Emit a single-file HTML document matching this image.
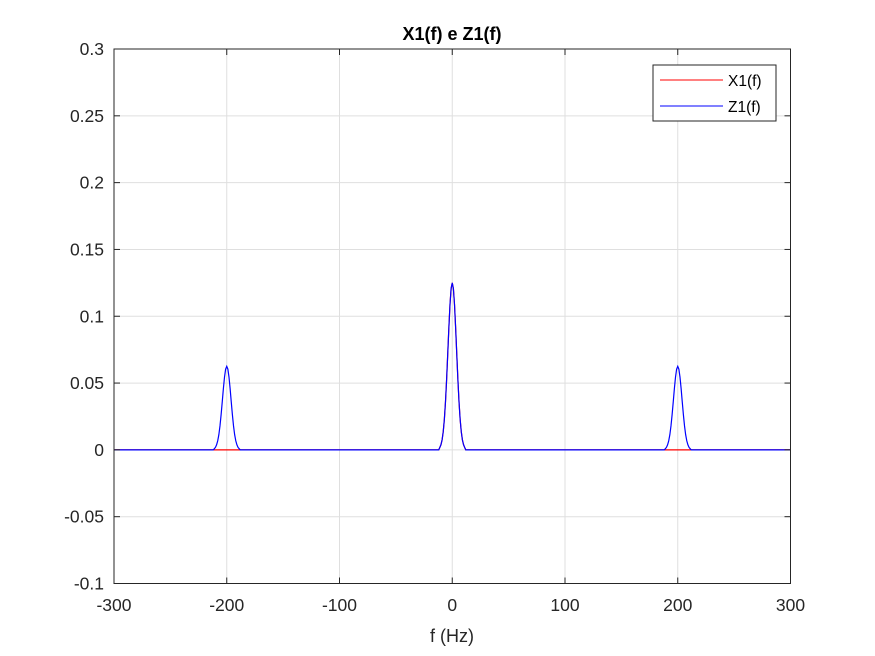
<!DOCTYPE html>
<html><head><meta charset="utf-8"><style>
html,body{margin:0;padding:0;background:#fff;}
svg{display:block;font-family:"Liberation Sans",Arial,sans-serif;}
</style></head><body>
<svg id="chart" width="875" height="656" viewBox="0 0 875 656">
<rect width="875" height="656" fill="#fff"/>
<g id="grid"></g>
<g id="series"></g>
<rect x="114" y="49" width="676.5" height="534.5" fill="none" stroke="#262626" stroke-width="1"/>
<g id="ticks"></g>
<text x="452" y="40" text-anchor="middle" font-size="18" font-weight="bold" fill="#000">X1(f) e Z1(f)</text>
<text x="452" y="642" text-anchor="middle" font-size="18" fill="#262626">f (Hz)</text>
<g>
<rect x="653" y="65" width="123" height="56" fill="#fff" stroke="#262626" stroke-width="1"/>
<g>
<line x1="660" y1="80" x2="723" y2="80" stroke="#ff0000" stroke-width="1"/>
<text x="728" y="86" font-size="15.5" fill="#000">X1(f)</text></g>
<g>
<line x1="660" y1="106" x2="723" y2="106" stroke="#0000ff" stroke-width="1"/>
<text x="728" y="112" font-size="15.5" fill="#000">Z1(f)</text></g>
</g>
</svg>
<script>
const xTicks=[-300,-200,-100,0,100,200,300];
const yTicks=[-0.1,-0.05,0,0.05,0.1,0.15,0.2,0.25,0.3];
const yTickLabels=["-0.1","-0.05","0","0.05","0.1","0.15","0.2","0.25","0.3"];
const freqs=[-300,
-212,-211,-210,-209,-208,-207,-206,-205,-204,-203,-202,-201,-200,-199,-198,-197,-196,-195,-194,-193,-192,-191,-190,-189,-188,
-12,-11,-10,-9,-8,-7,-6,-5,-4,-3,-2,-1,0,1,2,3,4,5,6,7,8,9,10,11,12,
188,189,190,191,192,193,194,195,196,197,198,199,200,201,202,203,204,205,206,207,208,209,210,211,212,
300];
const z1Values=[0,
0,0.0009,0.0019,0.0038,0.0068,0.0114,0.0180,0.0263,0.0359,0.0458,0.0544,0.0604,0.0625,0.0604,0.0544,0.0458,0.0359,0.0263,0.0180,0.0114,0.0068,0.0038,0.0019,0.0009,0,
0,0.0019,0.0039,0.0075,0.0136,0.0229,0.0360,0.0526,0.0719,0.0915,0.1089,0.1208,0.125,0.1208,0.1089,0.0915,0.0719,0.0526,0.0360,0.0229,0.0136,0.0075,0.0039,0.0019,0,
0,0.0009,0.0019,0.0038,0.0068,0.0114,0.0180,0.0263,0.0359,0.0458,0.0544,0.0604,0.0625,0.0604,0.0544,0.0458,0.0359,0.0263,0.0180,0.0114,0.0068,0.0038,0.0019,0.0009,0,
0];
const x1Values=[0,
0,0,0,0,0,0,0,0,0,0,0,0,0,0,0,0,0,0,0,0,0,0,0,0,0,
0,0.0019,0.0039,0.0075,0.0136,0.0229,0.0360,0.0526,0.0719,0.0915,0.1089,0.1208,0.125,0.1208,0.1089,0.0915,0.0719,0.0526,0.0360,0.0229,0.0136,0.0075,0.0039,0.0019,0,
0,0,0,0,0,0,0,0,0,0,0,0,0,0,0,0,0,0,0,0,0,0,0,0,0,
0];
const NS='http://www.w3.org/2000/svg';
const L=114,R=790.5,T=49,B=583.5;
function xs(v){return L+(v+300)/600*(R-L);}
function ys(v){return B-(v+0.1)/0.4*(B-T);}
const grid=document.getElementById('grid'),ticks=document.getElementById('ticks'),ser=document.getElementById('series');
function mk(tag,attrs,parent){const e=document.createElementNS(NS,tag);for(const k in attrs)e.setAttribute(k,attrs[k]);parent.appendChild(e);return e;}
xTicks.forEach(v=>{const x=xs(v);
 const g=mk('line',{x1:x,y1:T,x2:x,y2:B,stroke:'#dfdfdf','stroke-width':1},grid);
 
 
 mk('line',{x1:x,y1:B,x2:x,y2:B-6,stroke:'#262626'},ticks);
 mk('line',{x1:x,y1:T,x2:x,y2:T+6,stroke:'#262626'},ticks);
 const t=mk('text',{x:x,y:611,'text-anchor':'middle','font-size':17.5,fill:'#262626'},ticks);
 t.textContent=String(v);
 
 
});
yTicks.forEach((v,i)=>{const y=ys(v);
 const g=mk('line',{x1:L,y1:y,x2:R,y2:y,stroke:'#dfdfdf','stroke-width':1},grid);
 
 
 mk('line',{x1:L,y1:y,x2:L+6,y2:y,stroke:'#262626'},ticks);
 mk('line',{x1:R,y1:y,x2:R-6,y2:y,stroke:'#262626'},ticks);
 const t=mk('text',{x:104,y:y+6,'text-anchor':'end','font-size':17.5,fill:'#262626'},ticks);
 t.textContent=yTickLabels[i];
 
 
});
function path(vals,color,name){
 const d=freqs.map((f,i)=>(i?'L':'M')+xs(f).toFixed(2)+','+ys(vals[i]).toFixed(2)).join('');
 const p=mk('path',{d:d,fill:'none',stroke:color,'stroke-width':1.2},ser);
 
 
}
path(x1Values,'#ff0000','line-x1');
path(z1Values,'#0000ff','line-z1');
</script>
</body></html>
